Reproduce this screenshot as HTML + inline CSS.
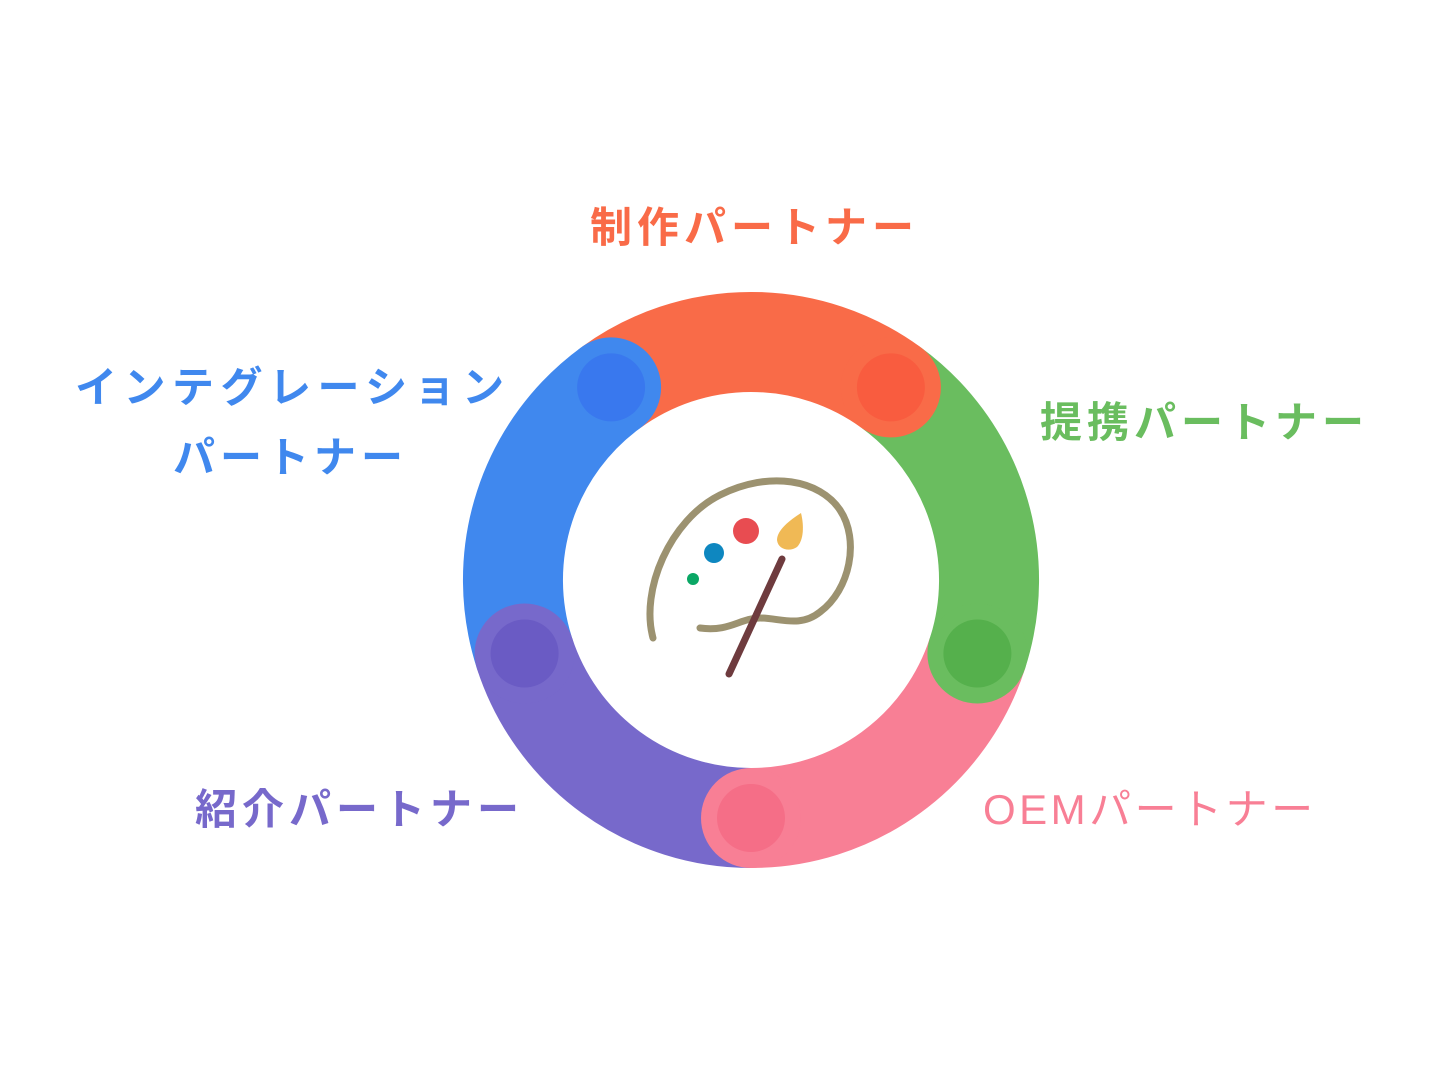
<!DOCTYPE html>
<html><head><meta charset="utf-8"><style>
body{margin:0;width:1440px;height:1080px;background:#fff;overflow:hidden;position:relative}
.l{position:absolute;font-family:"Liberation Sans","Noto Sans CJK JP",sans-serif;font-weight:bold;font-size:42px;letter-spacing:5px;white-space:nowrap;line-height:1}
</style></head><body>
<svg width="1440" height="1080" style="position:absolute;left:0;top:0">
<g fill="none" stroke-width="100">
<path d="M611.1,387.4 A238,238 0 0 1 890.9,387.4" stroke="#F96B48"/>
<path d="M890.9,387.4 A238,238 0 0 1 977.4,653.5" stroke="#6ABD5F"/>
<path d="M977.4,653.5 A238,238 0 0 1 751,818" stroke="#F87F95"/>
<path d="M751,818 A238,238 0 0 1 524.6,653.5" stroke="#7769CB"/>
<path d="M524.6,653.5 A238,238 0 0 1 611.1,387.4" stroke="#4088EE"/>
</g>
<circle cx="890.9" cy="387.4" r="50" fill="#F96B48"/><circle cx="890.9" cy="387.4" r="34" fill="#F95C3F"/>
<circle cx="977.4" cy="653.5" r="50" fill="#6ABD5F"/><circle cx="977.4" cy="653.5" r="34" fill="#55B04C"/>
<circle cx="751" cy="818" r="50" fill="#F87F95"/><circle cx="751" cy="818" r="34" fill="#F56E87"/>
<circle cx="524.6" cy="653.5" r="50" fill="#7769CB"/><circle cx="524.6" cy="653.5" r="34" fill="#6A5BC4"/>
<circle cx="611.1" cy="387.4" r="50" fill="#4088EE"/><circle cx="611.1" cy="387.4" r="34" fill="#3978EE"/>
<path d="M653,638 C640,590 670,520 720,495 C770,470 820,480 840,510 C860,540 850,590 820,612 C800,628 780,618 760,618 C740,618 730,632 700,628" fill="none" stroke="#9C9270" stroke-width="7" stroke-linecap="round"/>
<circle cx="746" cy="531" r="13" fill="#E84C51"/>
<circle cx="714" cy="553" r="10" fill="#0E87C0"/>
<circle cx="693" cy="579" r="6" fill="#0AA765"/>
<path d="M801,513 C804,525 804,540 797,547 C790,552 778,550 777,540 C777,530 790,520 801,513Z" fill="#F0B955"/>
<line x1="782" y1="559" x2="729" y2="674" stroke="#6E3B3E" stroke-width="7" stroke-linecap="round"/>
</svg>
<div class="l" style="left:590px;top:207px;color:#F96B48">制作パートナー</div>
<div class="l" style="left:1040px;top:402px;color:#6ABD5F">提携パートナー</div>
<div class="l" style="left:75px;top:367px;color:#4088EE;letter-spacing:6.5px">インテグレーション</div>
<div class="l" style="left:173px;top:437px;color:#4088EE">パートナー</div>
<div class="l" style="left:195px;top:789px;color:#7769CB">紹介パートナー</div>
<div class="l" style="left:983px;top:789px;color:#F87F95;font-weight:normal;letter-spacing:3.5px">OEMパートナー</div>
</body></html>
